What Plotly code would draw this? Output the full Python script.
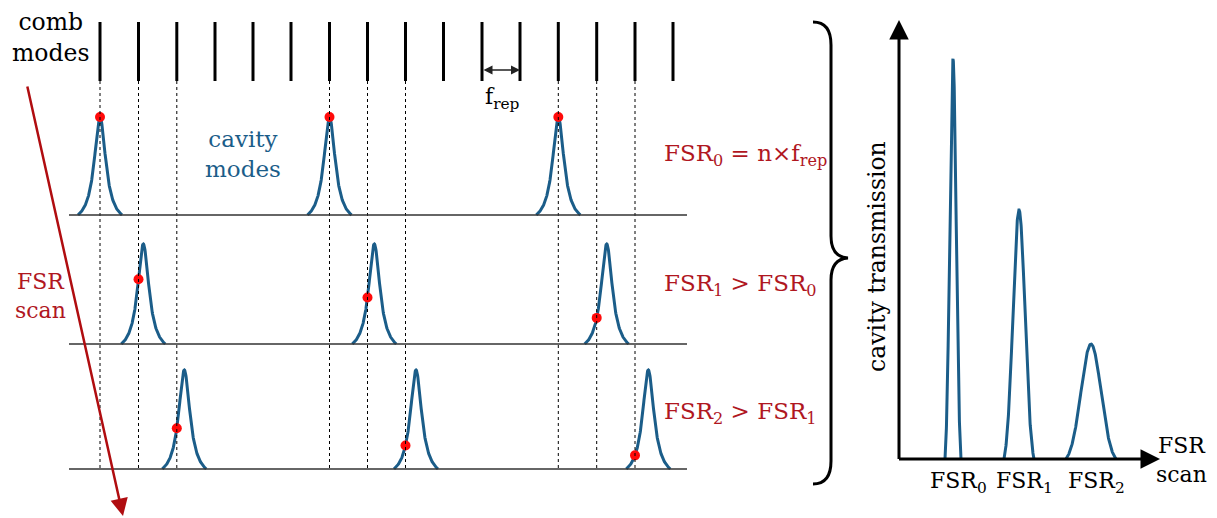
import numpy as np
import plotly.graph_objects as go

W, H = 1217, 518
PAGE_MARGIN = 8  # default body margin of the html page

# ---- data (pixel-based diagram coordinates) ----
comb_modes_x = [100, 138.5, 176.8, 215, 253, 291, 329.5, 367.5, 405.5,
                443.5, 482, 520, 558.3, 596.7, 635, 673]
comb_top, comb_bottom = 22, 81
dashed_x = [100, 138.5, 176.8, 329.5, 367.5, 405.5, 558.3, 596.7, 635]
dashed_bottom = 470
row_baselines = [215, 344, 469]
row_line_x = [69, 687]
row_peak_centers = [[100, 329.5, 558.3],
                    [143.3, 374.3, 606.7],
                    [184.3, 416.0, 648.3]]
row_peak_heights = [98, 100, 99]
row_probe_combs = [[100, 329.5, 558.3],
                   [138.5, 367.5, 596.7],
                   [176.8, 405.5, 635]]
lor_gamma = 7.0
lor_halfbase = 22.0

row_labels = ["FSR<sub>0</sub> = n×f<sub>rep</sub>",
              "FSR<sub>1</sub> > FSR<sub>0</sub>",
              "FSR<sub>2</sub> > FSR<sub>1</sub>"]
row_label_y = [155, 285, 413]

# right panel: cavity transmission vs FSR scan
axis_origin = (899, 459)
axis_x_end = 1160
axis_y_end = 20
trans_centers = [953, 1019, 1091]
trans_heights = [400, 249, 115]
trans_halfbase = [8, 15, 25]
trans_labels = ["FSR<sub>0</sub>", "FSR<sub>1</sub>", "FSR<sub>2</sub>"]

BLUE = "#1b5d89"
RED_TXT = "#b0171f"
RED_ARROW = "#b00d10"
FONT = "DejaVu Serif"


def lorentz(x, c, h, base):
    d = np.asarray(x, dtype=float) - c
    L = 1.0 / (1.0 + (d / lor_gamma) ** 2)
    L0 = 1.0 / (1.0 + (lor_halfbase / lor_gamma) ** 2)
    return base - h * (L - L0) / (1 - L0)


def gauss(x, c, h, hb, base):
    s = hb / 2.5
    d = np.asarray(x, dtype=float) - c
    G = np.exp(-d ** 2 / (2 * s * s))
    G0 = np.exp(-(hb) ** 2 / (2 * s * s))
    return base - h * (G - G0) / (1 - G0)


fig = go.Figure()
shapes = []
annotations = []

# comb modes
for x in comb_modes_x:
    shapes.append(dict(type="line", x0=x, x1=x, y0=comb_top, y1=comb_bottom,
                       line=dict(color="black", width=3)))
# dashed guides
for x in dashed_x:
    shapes.append(dict(type="line", x0=x, x1=x, y0=comb_bottom, y1=dashed_bottom,
                       line=dict(color="black", width=1, dash="3px,3px")))
# baselines
for yb in row_baselines:
    shapes.append(dict(type="line", x0=row_line_x[0], x1=row_line_x[1], y0=yb, y1=yb,
                       line=dict(color="#333333", width=1.5)))

# cavity mode peaks
for r, yb in enumerate(row_baselines):
    for c in row_peak_centers[r]:
        xs = np.linspace(c - lor_halfbase, c + lor_halfbase, 200)
        fig.add_trace(go.Scatter(x=xs, y=lorentz(xs, c, row_peak_heights[r], yb),
                                 mode="lines", line=dict(color=BLUE, width=3),
                                 hoverinfo="skip", showlegend=False))
    # red dots: comb line crossing the nearest cavity mode
    px, py = [], []
    for xc, c in zip(row_probe_combs[r], row_peak_centers[r]):
        px.append(xc)
        py.append(float(lorentz(xc, c, row_peak_heights[r], yb)))
    fig.add_trace(go.Scatter(x=px, y=py, mode="markers",
                             marker=dict(color="#ff0a0a", size=10),
                             hoverinfo="skip", showlegend=False))

# transmission peaks (right panel)
for c, h, hb in zip(trans_centers, trans_heights, trans_halfbase):
    xs = np.linspace(c - hb, c + hb, 200)
    fig.add_trace(go.Scatter(x=xs, y=gauss(xs, c, h, hb, axis_origin[1]),
                             mode="lines", line=dict(color=BLUE, width=3),
                             hoverinfo="skip", showlegend=False))

# brace
brace = ("M 813,22 Q 831,22 831,45 L 831,236 Q 831,257 848,258 "
         "Q 831,259 831,280 L 831,461 Q 831,484 813,484")
shapes.append(dict(type="path", path=brace, line=dict(color="black", width=3)))

# axes arrows
annotations.append(dict(x=axis_x_end, y=axis_origin[1], ax=axis_origin[0] - 1.5,
                        ay=axis_origin[1], xref="x", yref="y", axref="x", ayref="y",
                        text="", showarrow=True, arrowhead=2, arrowsize=1.3,
                        arrowwidth=3, arrowcolor="black"))
annotations.append(dict(x=axis_origin[0], y=axis_y_end, ax=axis_origin[0],
                        ay=axis_origin[1] + 1.5, xref="x", yref="y", axref="x", ayref="y",
                        text="", showarrow=True, arrowhead=2, arrowsize=1.3,
                        arrowwidth=3, arrowcolor="black"))
# f_rep double arrow
annotations.append(dict(x=520, y=70, ax=482, ay=70, xref="x", yref="y",
                        axref="x", ayref="y", text="", showarrow=True,
                        arrowhead=2, startarrowhead=2, arrowside="end+start",
                        arrowsize=1.2, startarrowsize=1.2,
                        arrowwidth=1.5, arrowcolor="#222222"))
# FSR scan red arrow
annotations.append(dict(x=123, y=516, ax=27, ay=85, xref="x", yref="y",
                        axref="x", ayref="y", text="", showarrow=True,
                        arrowhead=2, arrowsize=1.4, arrowwidth=2.5,
                        arrowcolor=RED_ARROW))


def txt(x, y, s, size, color="black", xanchor="center", yanchor="middle", angle=0):
    annotations.append(dict(x=x, y=y, xref="x", yref="y", text=s, showarrow=False,
                            xanchor=xanchor, yanchor=yanchor, textangle=angle,
                            borderpad=0,
                            font=dict(family=FONT, size=size, color=color)))


txt(50, 37, "comb<br>modes", 23.5)
txt(243, 154, "cavity<br>modes", 23, BLUE)
txt(502, 98, "f<sub>rep</sub>", 22)
txt(40, 296, "FSR<br>scan", 22, RED_TXT)
for s, y in zip(row_labels, row_label_y):
    txt(663, y, s, 23, RED_TXT, xanchor="left")
for s, x in zip(trans_labels, trans_centers):
    txt(x + 5, 482, s, 22)
txt(1181, 460, "FSR<br>scan", 22)
txt(877, 257, "cavity transmission", 23.5, angle=-90)

fig.update_layout(
    width=W, height=H, margin=dict(l=0, r=0, t=0, b=0),
    paper_bgcolor="white", plot_bgcolor="white",
    xaxis=dict(range=[PAGE_MARGIN, W + PAGE_MARGIN], visible=False, fixedrange=True),
    yaxis=dict(range=[H + PAGE_MARGIN, PAGE_MARGIN], visible=False, fixedrange=True),
    shapes=shapes, annotations=annotations, showlegend=False,
)
fig.write_html("out.html")
